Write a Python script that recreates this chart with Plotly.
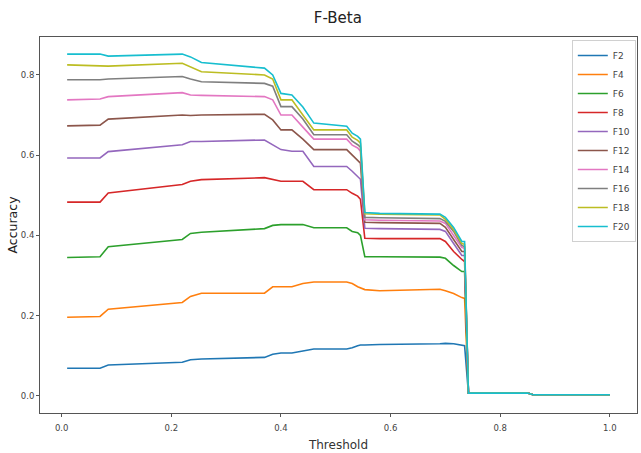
import plotly.graph_objects as go

thresholds = [0.01, 0.07, 0.085, 0.22, 0.235, 0.255, 0.37, 0.385, 0.40, 0.42, 0.44, 0.46, 0.52,
              0.53, 0.54, 0.545, 0.553, 0.58, 0.69, 0.70, 0.715, 0.73, 0.735, 0.742, 0.85, 0.86, 1.0]

f2 = [0.069, 0.069, 0.077, 0.084, 0.090, 0.092, 0.096, 0.104, 0.107, 0.107, 0.112, 0.117, 0.117,
      0.120, 0.125, 0.127, 0.127, 0.128, 0.130, 0.131, 0.130, 0.127, 0.125, 0.007, 0.007, 0.003, 0.003]
f4 = [0.196, 0.198, 0.216, 0.233, 0.248, 0.256, 0.256, 0.272, 0.272, 0.272, 0.280, 0.284, 0.284,
      0.280, 0.272, 0.270, 0.265, 0.262, 0.266, 0.262, 0.255, 0.245, 0.243, 0.007, 0.007, 0.003, 0.003]
f6 = [0.345, 0.347, 0.372, 0.390, 0.405, 0.408, 0.417, 0.425, 0.427, 0.427, 0.427, 0.419, 0.419,
      0.410, 0.407, 0.400, 0.347, 0.347, 0.346, 0.343, 0.325, 0.310, 0.310, 0.007, 0.007, 0.003, 0.003]
f8 = [0.483, 0.483, 0.506, 0.527, 0.535, 0.539, 0.544, 0.540, 0.535, 0.535, 0.535, 0.514, 0.514,
      0.505, 0.498, 0.490, 0.393, 0.392, 0.392, 0.385, 0.360, 0.340, 0.335, 0.007, 0.007, 0.003, 0.003]
f10 = [0.593, 0.593, 0.609, 0.626, 0.634, 0.634, 0.638, 0.625, 0.614, 0.610, 0.610, 0.572, 0.572,
       0.560, 0.547, 0.540, 0.418, 0.417, 0.415, 0.410, 0.380, 0.350, 0.350, 0.007, 0.007, 0.003, 0.003]
f12 = [0.673, 0.675, 0.690, 0.700, 0.699, 0.700, 0.702, 0.688, 0.663, 0.663, 0.640, 0.614, 0.614,
       0.600, 0.585, 0.580, 0.433, 0.432, 0.430, 0.420, 0.390, 0.360, 0.360, 0.007, 0.007, 0.003, 0.003]
f14 = [0.738, 0.740, 0.746, 0.756, 0.750, 0.749, 0.746, 0.738, 0.700, 0.700, 0.670, 0.640, 0.640,
       0.625, 0.618, 0.610, 0.439, 0.438, 0.436, 0.430, 0.400, 0.370, 0.368, 0.007, 0.007, 0.003, 0.003]
f16 = [0.788, 0.788, 0.790, 0.796, 0.790, 0.783, 0.779, 0.772, 0.721, 0.721, 0.690, 0.651, 0.651,
       0.635, 0.626, 0.620, 0.445, 0.444, 0.442, 0.435, 0.410, 0.375, 0.372, 0.007, 0.007, 0.003, 0.003]
f18 = [0.825, 0.823, 0.822, 0.829, 0.820, 0.808, 0.800, 0.790, 0.738, 0.738, 0.700, 0.663, 0.663,
       0.645, 0.637, 0.630, 0.454, 0.453, 0.451, 0.440, 0.415, 0.380, 0.378, 0.007, 0.007, 0.003, 0.003]
f20 = [0.852, 0.852, 0.847, 0.852, 0.845, 0.831, 0.817, 0.800, 0.754, 0.750, 0.720, 0.680, 0.672,
       0.655, 0.647, 0.640, 0.457, 0.455, 0.453, 0.445, 0.420, 0.385, 0.385, 0.007, 0.007, 0.003, 0.003]

series_names = ["F2", "F4", "F6", "F8", "F10", "F12", "F14", "F16", "F18", "F20"]
series_values = [f2, f4, f6, f8, f10, f12, f14, f16, f18, f20]
colors = ["#1f77b4", "#ff7f0e", "#2ca02c", "#d62728", "#9467bd",
          "#8c564b", "#e377c2", "#7f7f7f", "#bcbd22", "#17becf"]

x_ticks = [0.0, 0.2, 0.4, 0.6, 0.8, 1.0]
x_tick_labels = ["0.0", "0.2", "0.4", "0.6", "0.8", "1.0"]
y_ticks = [0.0, 0.2, 0.4, 0.6, 0.8]
y_tick_labels = ["0.0", "0.2", "0.4", "0.6", "0.8"]

fig = go.Figure()
for name, vals, col in zip(series_names, series_values, colors):
    fig.add_trace(go.Scatter(x=thresholds, y=vals, mode="lines", name=name,
                             line=dict(color=col, width=1.6)))

font_family = "DejaVu Sans"
fig.update_layout(
    width=641, height=453,
    margin=dict(l=40, r=4, t=37, b=40),
    paper_bgcolor="white", plot_bgcolor="white",
    title=dict(text="F-Beta", x=0.527, xanchor="center", y=1 - 18 / 453, yanchor="middle",
               font=dict(family=font_family, size=15, color="#222")),
    font=dict(family=font_family, color="#333"),
    legend=dict(x=0.998, xanchor="right", y=0.992, yanchor="top",
                bgcolor="white", bordercolor="#d0d0d0", borderwidth=1,
                font=dict(size=9, color="#444"), itemwidth=30),
    showlegend=True,
)
axis_common = dict(showgrid=False, zeroline=False, showline=True, linecolor="#555",
                   linewidth=1, mirror=True, ticks="outside", ticklen=3, tickcolor="#555",
                   tickfont=dict(size=8.5, color="#444"))
fig.update_xaxes(range=[-0.0395, 1.0495], tickvals=x_ticks, ticktext=x_tick_labels,
                 ticklabelstandoff=4,
                 title=dict(text="Threshold", font=dict(size=12, color="#333"), standoff=8),
                 **axis_common)
fig.update_yaxes(range=[-0.0426, 0.8946], tickvals=y_ticks, ticktext=y_tick_labels,
                 title=dict(text="Accuracy", font=dict(size=12.5, color="#222"), standoff=0),
                 **axis_common)

fig.write_html("out.html")
